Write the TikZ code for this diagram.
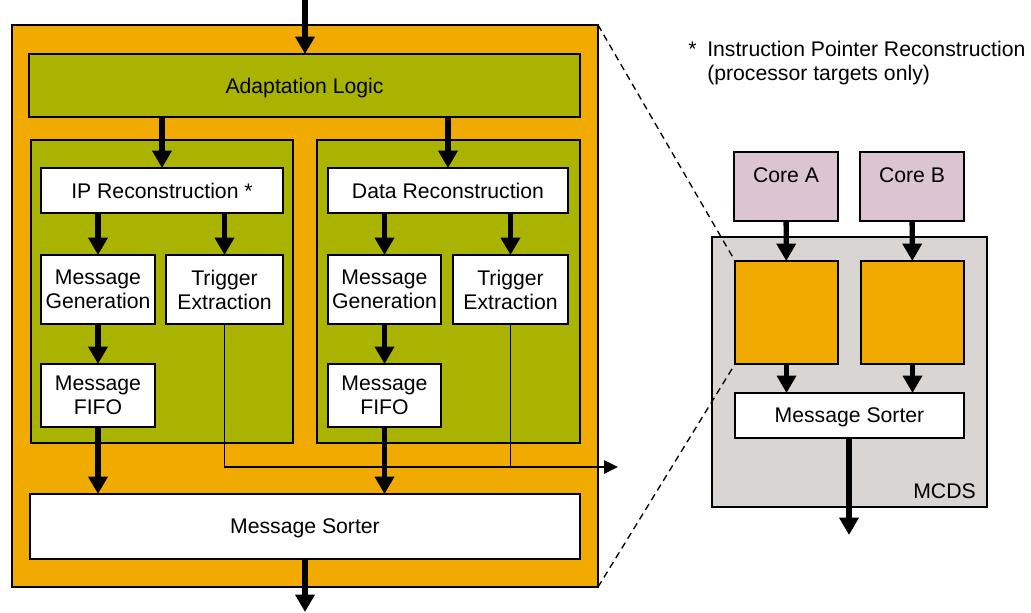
\documentclass[tikz,border=0pt]{standalone}
\usepackage{fontspec}
\setmainfont{Liberation Sans}
\usetikzlibrary{arrows.meta}
\definecolor{modorange}{RGB}{240,170,0}
\definecolor{logicgreen}{RGB}{170,180,0}
\definecolor{corepink}{RGB}{220,197,210}
\definecolor{mcdsgray}{RGB}{217,213,210}
\tikzset{
  blk/.style={draw=black, line width=1.1pt, inner sep=0pt, outer sep=0pt, align=center, text depth=0pt},
  wbox/.style={blk, fill=white},
  gbox/.style={blk, fill=logicgreen},
  obox/.style={blk, fill=modorange},
  bigarrow/.style={line width=4pt, -{Triangle[length=13pt,width=14pt]}},
  thinarrow/.style={line width=1.1pt, -{Triangle[length=10.5pt,width=10pt]}},
  zoomline/.style={line width=1pt, dash pattern=on 5pt off 3.5pt},
}
\begin{document}
\begin{tikzpicture}[x=0.75pt,y=-0.75pt, font=\fontsize{15.9}{18}\selectfont]
\useasboundingbox (0,0) rectangle (1031,612);

% ---- trace module ----
\node[obox, minimum width=439.5pt, minimum height=421.5pt] (mod) at (305,306) {};
\node[gbox, minimum width=413.25pt, minimum height=47.25pt] (adapt) at (304.5,85.5) {Adaptation Logic};
\node[gbox, minimum width=196.5pt, minimum height=227.25pt] (lp) at (162,291.5) {};
\node[gbox, minimum width=197.25pt, minimum height=227.25pt] (rp) at (448.5,291.5) {};

\node[wbox, minimum width=181.5pt, minimum height=33.75pt] (ipr) at (162,190.5) {IP Reconstruction *};
\node[wbox, minimum width=180pt, minimum height=33.75pt] (dr) at (448,190.5) {Data Reconstruction};

\node[wbox, minimum width=85.5pt, minimum height=51.75pt] (mgl) at (98,289.5) {Message\\Generation};
\node[wbox, minimum width=87.75pt, minimum height=51.75pt] (tel) at (224.5,289.5) {Trigger\\Extraction};
\node[wbox, minimum width=84.75pt, minimum height=51.75pt] (mgr) at (384.5,289.5) {Message\\Generation};
\node[wbox, minimum width=86.25pt, minimum height=51.75pt] (ter) at (510.5,289.5) {Trigger\\Extraction};

\node[wbox, minimum width=85.5pt, minimum height=47.25pt] (ffl) at (98,395.5) {Message\\FIFO};
\node[wbox, minimum width=84.75pt, minimum height=47.25pt] (ffr) at (384.5,395.5) {Message\\FIFO};

\node[wbox, minimum width=412.5pt, minimum height=48.75pt] (ms) at (305,526.5) {Message Sorter};

\coordinate (topin) at (305,0);
\coordinate (botout) at (305,612);
\coordinate (trigout) at (618,467);

% trigger outputs
\draw[thinarrow] (tel.south) |- (trigout);
\draw[line width=1.1pt] (ter.south) -- (ter.south |- trigout);

% data path
\draw[bigarrow] (topin) -- (adapt.north -| topin);
\draw[bigarrow] (adapt.south -| ipr.north) -- (ipr.north);
\draw[bigarrow] (adapt.south -| dr.north) -- (dr.north);
\draw[bigarrow] (ipr.south -| mgl.north) -- (mgl.north);
\draw[bigarrow] (ipr.south -| tel.north) -- (tel.north);
\draw[bigarrow] (dr.south -| mgr.north) -- (mgr.north);
\draw[bigarrow] (dr.south -| ter.north) -- (ter.north);
\draw[bigarrow] (mgl) -- (ffl);
\draw[bigarrow] (mgr) -- (ffr);
\draw[bigarrow] (ffl.south) -- (ms.north -| ffl.south);
\draw[bigarrow] (ffr.south) -- (ms.north -| ffr.south);
\draw[bigarrow] (ms.south -| botout) -- (botout);

% ---- footnote ----
\node[anchor=west, align=left, inner sep=0pt] (note) at (688,63.5)
  {\makebox[14.25pt][l]{*}Instruction Pointer Reconstruction\\\hspace*{14.25pt}(processor targets only)};

% ---- MCDS system ----
\node[blk, fill=mcdsgray, minimum width=206.25pt, minimum height=202.5pt,
  label={[anchor=south east, inner sep=0pt, xshift=-8.25pt, yshift=6pt]south east:MCDS}] (mcds) at (849.5,372) {};

\node[obox, minimum width=77.25pt, minimum height=77.25pt] (oa) at (786.5,312.5) {};
\node[obox, minimum width=77.25pt, minimum height=77.25pt] (ob) at (912.5,312.5) {};

\draw[zoomline] (mod.north east) -- (oa.north west);
\draw[zoomline] (mod.south east) -- (oa.south west);

\node[blk, fill=corepink, minimum width=78pt, minimum height=51.75pt,
  label={[anchor=center, yshift=-17.25pt]north:Core A}] (ca) at (786,186.5) {};
\node[blk, fill=corepink, minimum width=78pt, minimum height=51.75pt,
  label={[anchor=center, yshift=-17.25pt]north:Core B}] (cb) at (912,186.5) {};

\node[wbox, minimum width=171.75pt, minimum height=33.75pt] (ms2) at (849.5,415.5) {Message Sorter};

\coordinate (mcdsout) at (849,535);

\draw[bigarrow] (ca) -- (oa);
\draw[bigarrow] (cb) -- (ob);
\draw[bigarrow] (oa.south) -- (ms2.north -| oa.south);
\draw[bigarrow] (ob.south) -- (ms2.north -| ob.south);
\draw[bigarrow] (ms2.south -| mcdsout) -- (mcdsout);
\end{tikzpicture}
\end{document}
